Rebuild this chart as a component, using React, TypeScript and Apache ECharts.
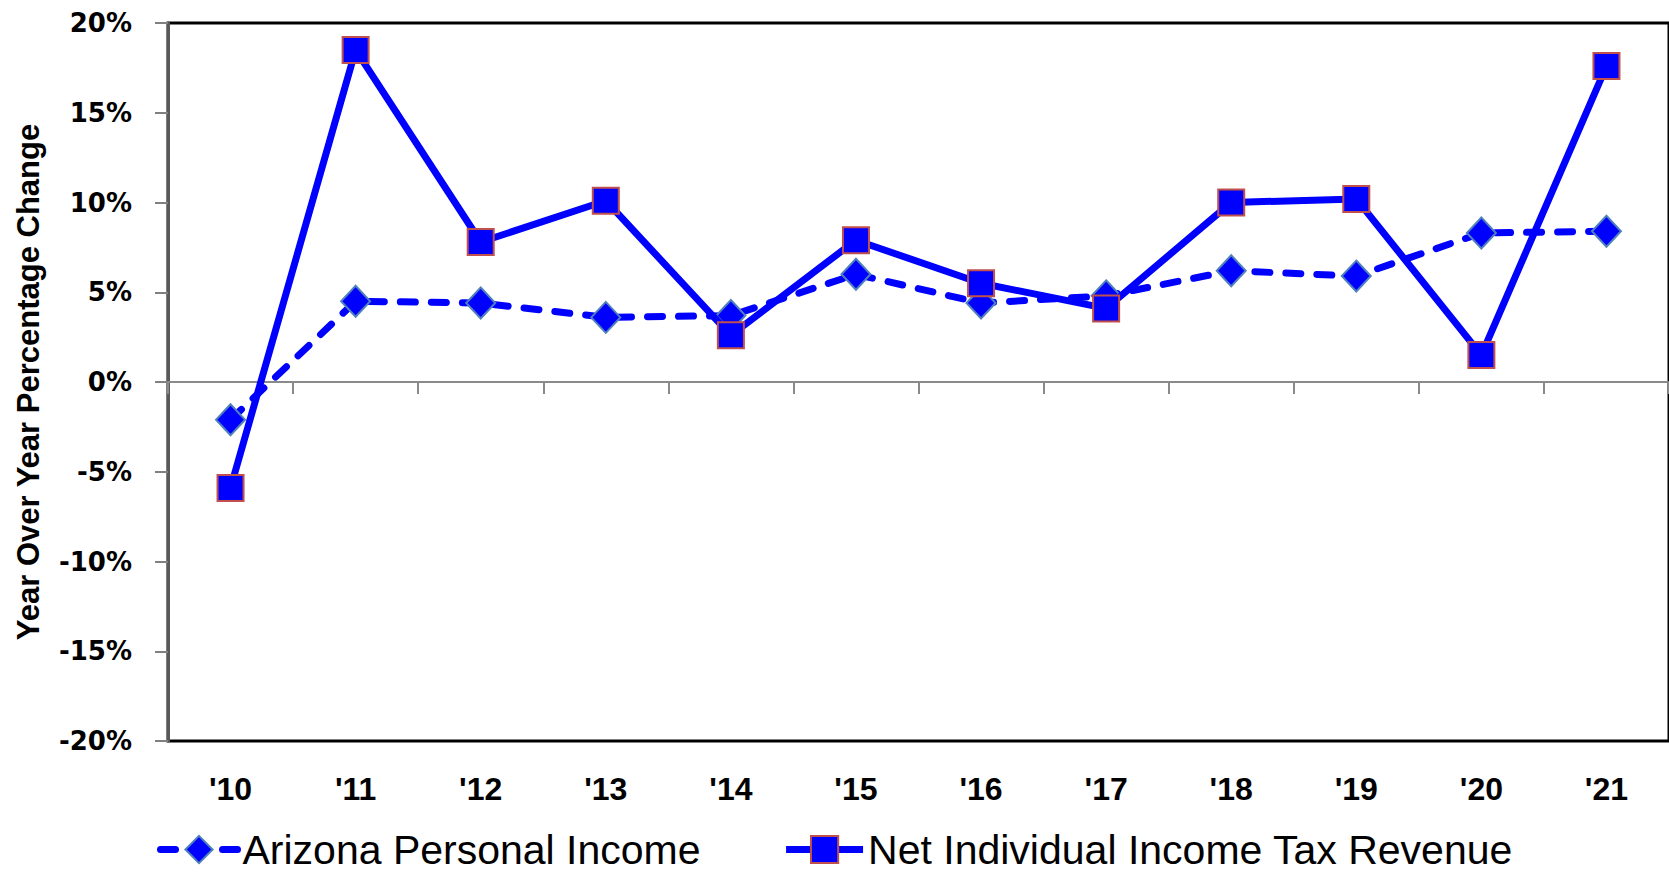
import React, { useEffect, useRef } from "react";
import * as echarts from "echarts";

const categories = ["'10", "'11", "'12", "'13", "'14", "'15", "'16", "'17", "'18", "'19", "'20", "'21"];
const personalIncome = [-2.1, 4.5, 4.4, 3.6, 3.7, 6.0, 4.4, 4.8, 6.2, 5.9, 8.3, 8.4];
const incomeTaxRevenue = [-5.9, 18.5, 7.8, 10.1, 2.6, 7.9, 5.5, 4.1, 10.0, 10.2, 1.5, 17.6];
const seriesNames = ["Arizona Personal Income", "Net Individual Income Tax Revenue"];
const yAxisTitle = "Year Over Year Percentage Change";

export default function App() {
  const ref = useRef<HTMLDivElement>(null);
  useEffect(() => {
    if (!ref.current) return;
    const chart = echarts.init(ref.current, undefined, { renderer: "svg" });
    chart.setOption({
      animation: false,
      backgroundColor: "#ffffff",
      grid: {
        left: 168,
        top: 23,
        width: 1516,
        height: 718,
        show: true,
        borderColor: "#000000",
        borderWidth: 3,
        backgroundColor: "transparent",
      },
      legend: {
        left: 157,
        top: 829,
        padding: 0,
        itemWidth: 77,
        itemHeight: 34,
        itemGap: 82,
        lineStyle: { width: 7 },
        textStyle: { fontFamily: "'Liberation Sans', Arial, sans-serif", fontSize: 41, color: "#000" },
        data: seriesNames,
      },
      xAxis: [
        {
          type: "category",
          data: categories,
          position: "bottom",
          boundaryGap: true,
          axisLine: { onZero: true, lineStyle: { color: "#8a8a8a", width: 2 } },
          axisTick: { show: true, length: 12, lineStyle: { color: "#8a8a8a", width: 2 } },
          axisLabel: { show: false },
          splitLine: { show: false },
        },
        {
          type: "category",
          data: categories,
          position: "bottom",
          boundaryGap: true,
          axisLine: { show: false, onZero: false },
          axisTick: { show: false },
          axisLabel: {
            margin: 32,
            fontFamily: "'Liberation Sans', Arial, sans-serif",
            fontWeight: "bold",
            fontSize: 32,
            color: "#000",
          },
          splitLine: { show: false },
        },
      ],
      yAxis: {
        type: "value",
        min: -20,
        max: 20,
        interval: 5,
        name: yAxisTitle,
        nameLocation: "middle",
        nameRotate: 90,
        nameGap: 124,
        nameTextStyle: {
          fontFamily: "'Liberation Sans', Arial, sans-serif",
          fontWeight: "bold",
          fontSize: 31,
          color: "#000",
        },
        axisLine: { show: true, lineStyle: { color: "#595959", width: 3 } },
        axisTick: { show: true, length: 13, lineStyle: { color: "#808080", width: 2 } },
        axisLabel: {
          margin: 36,
          formatter: "{value}%",
          fontFamily: "'DejaVu Sans', Verdana, sans-serif",
          fontWeight: "bold",
          fontSize: 26,
          color: "#000",
        },
        splitLine: { show: false },
      },
      series: [
        {
          name: seriesNames[0],
          type: "line",
          xAxisIndex: 0,
          data: personalIncome,
          symbol: "diamond",
          symbolSize: [29, 31],
          lineStyle: { color: "#0000ff", width: 7, type: [15, 16], cap: "round" },
          itemStyle: { color: "#0000ff", borderColor: "#4f81bd", borderWidth: 2 },
          z: 2,
        },
        {
          name: seriesNames[1],
          type: "line",
          xAxisIndex: 0,
          data: incomeTaxRevenue,
          symbol: "rect",
          symbolSize: 26,
          lineStyle: { color: "#0000ff", width: 7, type: "solid" },
          itemStyle: { color: "#0000ff", borderColor: "#c0504d", borderWidth: 2 },
          z: 3,
        },
      ],
    });
    return () => chart.dispose();
  }, []);
  return (
    <div
      ref={ref}
      style={{ position: "absolute", left: 0, top: 0, width: 1669, height: 872, background: "#fff" }}
    />
  );
}
